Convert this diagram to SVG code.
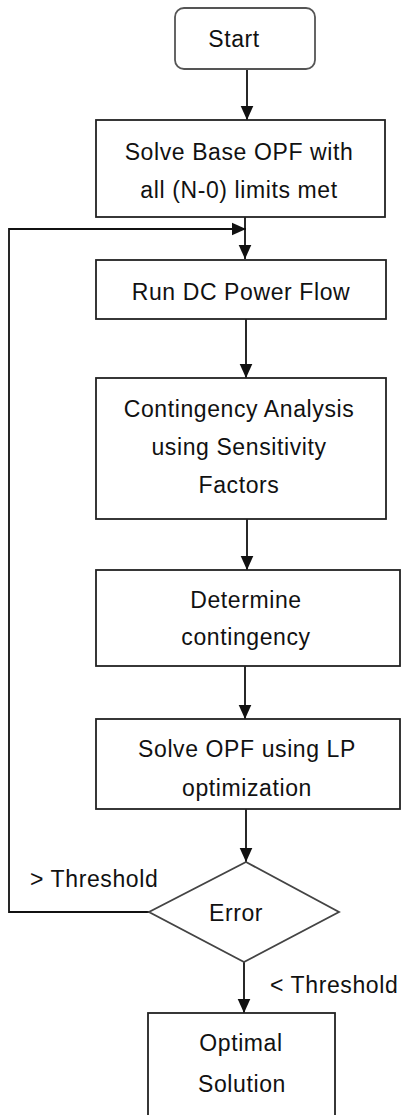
<svg xmlns="http://www.w3.org/2000/svg" width="404" height="1115" viewBox="0 0 404 1115">
<defs>
<marker id="ah" viewBox="0 0 10 10" refX="10" refY="5" markerWidth="14" markerHeight="14" markerUnits="userSpaceOnUse" orient="auto">
<path d="M0,0.5 L10,5 L0,9.5 Z" fill="#111"/>
</marker>
<style>
.n{fill:#fff;stroke:#222;stroke-width:1.8}
.t{font-family:"Liberation Sans",Arial,sans-serif;font-size:23px;letter-spacing:0.6px;fill:#111;text-anchor:middle}
.l{font-family:"Liberation Sans",Arial,sans-serif;font-size:23px;letter-spacing:0.6px;fill:#111}
.c{fill:none;stroke:#111;stroke-width:1.8}
</style>
</defs>
<rect width="404" height="1115" fill="#fff"/>
<g id="connectors">
<path class="c" d="M247,69 V120" marker-end="url(#ah)"/>
<path class="c" d="M245,217 V259" marker-end="url(#ah)"/>
<path class="c" d="M149,912 H9 V229 H246" marker-end="url(#ah)"/>
<path class="c" d="M246,319 V378" marker-end="url(#ah)"/>
<path class="c" d="M247,519 V570" marker-end="url(#ah)"/>
<path class="c" d="M245,666 V719" marker-end="url(#ah)"/>
<path class="c" d="M246,809 V862" marker-end="url(#ah)"/>
<path class="c" d="M244,962 V1013" marker-end="url(#ah)"/>
<text class="l" x="30" y="887">&gt; Threshold</text>
<text class="l" x="270" y="993">&lt; Threshold</text>
</g>
<g id="start">
<rect class="n" x="175" y="8" width="140" height="61" rx="9" style="stroke:#555"/>
<text class="t" x="234" y="47">Start</text>
</g>
<g id="base-opf">
<rect class="n" x="96" y="120" width="289" height="97"/>
<text class="t" x="239" y="160">Solve Base OPF with</text>
<text class="t" x="239" y="198">all (N-0) limits met</text>
</g>
<g id="dc-flow">
<rect class="n" x="96" y="260" width="290" height="59"/>
<text class="t" x="241" y="300">Run DC Power Flow</text>
</g>
<g id="contingency-analysis">
<rect class="n" x="96" y="378" width="290" height="141"/>
<text class="t" x="239" y="417">Contingency Analysis</text>
<text class="t" x="239" y="455">using Sensitivity</text>
<text class="t" x="239" y="493">Factors</text>
</g>
<g id="determine">
<rect class="n" x="96" y="570" width="304" height="96"/>
<text class="t" x="246" y="608">Determine</text>
<text class="t" x="246" y="645">contingency</text>
</g>
<g id="solve-lp">
<rect class="n" x="96" y="719" width="304" height="90"/>
<text class="t" x="247" y="757">Solve OPF using LP</text>
<text class="t" x="247" y="796">optimization</text>
</g>
<g id="error">
<polygon class="n" points="246,862 339,912 244,962 149,912" style="stroke:#444"/>
<text class="t" x="236" y="921">Error</text>
</g>
<g id="optimal">
<rect class="n" x="148" y="1013" width="187" height="110"/>
<text class="t" x="241" y="1051">Optimal</text>
<text class="t" x="242" y="1092">Solution</text>
</g>
</svg>
